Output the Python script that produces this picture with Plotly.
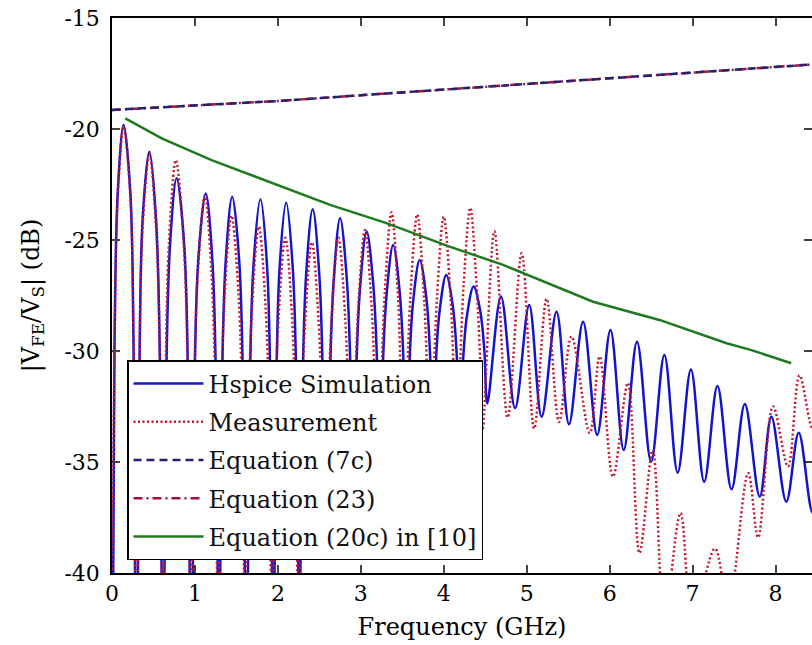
import plotly.graph_objects as go

# Frequency axis in GHz, magnitude in dB
x_ticks = [0, 1, 2, 3, 4, 5, 6, 7, 8]
y_ticks = [-40, -35, -30, -25, -20, -15]
y_tick_text = ["-40", "-35", "-30", "-25", "-20", "-15"]

# Hspice simulation (peaks, shoulders and nulls of the far-end response)
hspice_f = [0.00, 0.03, 0.07, 0.14, 0.22, 0.26, 0.295,
            0.33, 0.37, 0.45, 0.53, 0.58, 0.615,
            0.65, 0.70, 0.78, 0.87, 0.92, 0.955,
            0.99, 1.04, 1.13, 1.21, 1.26, 1.29,
            1.32, 1.37, 1.45, 1.535, 1.585, 1.62,
            1.655, 1.705, 1.79, 1.87, 1.915, 1.945,
            1.975, 2.02, 2.10, 2.18, 2.23, 2.26,
            2.29, 2.34, 2.42, 2.50, 2.55, 2.585,
            2.62, 2.67, 2.75, 2.83, 2.88, 2.91,
            2.94, 2.99, 3.07, 3.15, 3.20, 3.23,
            3.26, 3.31, 3.39, 3.47, 3.52, 3.55,
            3.58, 3.63, 3.71, 3.79, 3.84, 3.87,
            3.90, 3.95, 4.03, 4.11, 4.16, 4.195,
            4.23, 4.28, 4.36, 4.44, 4.49, 4.525,
            4.69, 4.86, 5.03, 5.18, 5.36, 5.51, 5.68, 5.85, 6.01, 6.17,
            6.33, 6.50, 6.66, 6.82, 6.98, 7.14, 7.30, 7.47, 7.63, 7.81,
            7.95, 8.13, 8.28, 8.45, 8.60]
hspice_db = [-50, -29.8, -22.8, -19.82, -22.8, -29.8, -50,
             -31.0, -24.0, -21.02, -24.0, -31.0, -50,
             -32.2, -25.2, -22.22, -25.2, -32.2, -50,
             -32.9, -25.9, -22.9, -25.9, -32.9, -50,
             -33.0, -26.0, -23.05, -26.0, -33.0, -50,
             -33.2, -26.2, -23.17, -26.2, -33.2, -48,
             -33.3, -26.3, -23.32, -26.3, -33.0, -45,
             -33.0, -26.6, -23.62, -26.6, -32.5, -39,
             -32.3, -27.0, -24.02, -26.7, -31.5, -37.5,
             -31.5, -27.2, -24.62, -27.0, -31.0, -36.5,
             -31.3, -27.5, -25.23, -27.4, -31.0, -35.5,
             -31.2, -27.8, -25.90, -27.6, -30.6, -34.5,
             -30.9, -28.2, -26.58, -28.0, -30.4, -33.5,
             -30.6, -28.4, -27.10, -28.2, -30.0, -32.36,
             -27.55, -32.57, -27.93, -32.96, -28.23, -33.3, -28.68, -33.78, -29.05, -34.46,
             -29.58, -34.98, -30.18, -35.48, -30.83, -35.89, -31.58, -36.23, -32.39, -36.56,
             -32.96, -36.79, -33.68, -37.3, -34.2]

# Measured response
meas_f = [0.00, 0.03, 0.07, 0.14, 0.22, 0.26, 0.295,
          0.33, 0.37, 0.45, 0.53, 0.58, 0.61,
          0.645, 0.69, 0.77, 0.86, 0.915, 0.95,
          0.985, 1.035, 1.12, 1.20, 1.25, 1.28,
          1.31, 1.36, 1.44, 1.525, 1.575, 1.61,
          1.64, 1.69, 1.77, 1.85, 1.90, 1.93,
          1.96, 2.01, 2.09, 2.17, 2.22, 2.25,
          2.28, 2.33, 2.41, 2.49, 2.54, 2.57,
          2.60, 2.65, 2.73, 2.81, 2.86, 2.89,
          2.92, 2.97, 3.05, 3.13, 3.18, 3.21,
          3.24, 3.29, 3.37, 3.445, 3.49, 3.52,
          3.55, 3.60, 3.68, 3.76, 3.81, 3.84,
          3.87, 3.92, 4.00, 4.08, 4.13, 4.16,
          4.19, 4.24, 4.32, 4.395, 4.44, 4.47,
          4.61, 4.77, 4.94, 5.09, 5.24, 5.39, 5.54, 5.76, 5.88, 6.04,
          6.22, 6.36, 6.52, 6.66, 6.855, 7.00, 7.27, 7.43, 7.67, 7.79,
          7.97, 8.15, 8.29, 8.45, 8.60]
meas_db = [-50, -30.0, -23.0, -19.9, -23.0, -30.0, -50,
           -31.1, -24.4, -21.1, -24.4, -31.1, -50,
           -31.4, -24.9, -21.4, -24.9, -31.4, -50,
           -33.0, -26.5, -23.0, -26.5, -33.0, -50,
           -33.9, -27.4, -23.9, -27.4, -33.9, -50,
           -34.4, -27.9, -24.4, -27.9, -34.4, -50,
           -34.9, -28.4, -24.9, -28.4, -34.9, -46,
           -34.5, -28.6, -25.1, -28.6, -34.0, -39,
           -33.5, -28.4, -24.9, -28.4, -33.5, -38,
           -33.2, -28.0, -24.55, -28.0, -33.0, -37,
           -32.5, -27.3, -23.75, -27.3, -32.5, -36.5,
           -32.5, -27.4, -23.85, -27.4, -32.3, -36,
           -32.3, -27.5, -23.95, -27.5, -32.0, -35,
           -31.5, -27.0, -23.55, -27.0, -30.5, -33.5,
           -24.6, -33.0, -25.6, -33.5, -27.65, -33.2, -29.35, -33.7, -30.25, -35.66,
           -31.44, -39.1, -34.46, -42.0, -37.3, -42.0, -38.9, -41.5, -35.5, -38.4,
           -32.5, -35.2, -31.1, -33.5, -31.0]

# Closed-form estimates
eq_f = [0, 1, 2, 3, 4, 5, 6, 7, 8, 9]
eq7c_db = [-19.14, -18.95, -18.74, -18.48, -18.22, -17.96, -17.70, -17.45, -17.20, -16.95]
eq23_db = [-19.14, -18.95, -18.74, -18.48, -18.22, -17.96, -17.70, -17.45, -17.20, -16.95]

eq20c_f = [0.16, 0.6, 1.2, 2.0, 2.63, 3.3, 4.07, 4.7, 5.4, 5.8, 6.6, 7.41, 7.7, 8.19]
eq20c_db = [-19.52, -20.42, -21.4, -22.52, -23.42, -24.23, -25.3, -26.1, -27.18, -27.78,
            -28.6, -29.65, -29.95, -30.55]

SERIF = "DejaVu Serif"

fig = go.Figure()
fig.add_trace(go.Scatter(x=hspice_f, y=hspice_db, mode="lines", name="Hspice Simulation",
                         legendgroup="a", legendrank=1,
                         line=dict(color="#1414cc", width=2.5, shape="spline", smoothing=1.0)))
fig.add_trace(go.Scatter(x=meas_f, y=meas_db, mode="lines", name="Measurement",
                         legendgroup="b", legendrank=2,
                         line=dict(color="#c8142a", width=2.5, dash="2px,2.5px",
                                   shape="spline", smoothing=1.0)))
fig.add_trace(go.Scatter(x=eq_f, y=eq23_db, mode="lines", name="Equation (23)",
                         legendgroup="d", legendrank=4,
                         line=dict(color="#a8103a", width=2.5, dash="9px,4px,2px,4px")))
fig.add_trace(go.Scatter(x=eq_f, y=eq7c_db, mode="lines", name="Equation (7c)",
                         legendgroup="c", legendrank=3,
                         line=dict(color="#24246e", width=2.5, dash="8px,5px")))
fig.add_trace(go.Scatter(x=eq20c_f, y=eq20c_db, mode="lines", name="Equation (20c) in [10]",
                         legendgroup="e", legendrank=5,
                         line=dict(color="#1f7a1f", width=2.5)))

# Inward tick marks of the right-hand axis
shapes = [dict(type="line", xref="paper", yref="y", x0=1 - 8 / 700, x1=1.0, y0=v, y1=v,
               line=dict(color="black", width=1.5)) for v in y_ticks[1:-1]]

fig.update_layout(
    width=812, height=645,
    margin=dict(l=112, r=0, t=18, b=72),
    paper_bgcolor="white", plot_bgcolor="white",
    font=dict(family=SERIF, color="black", size=22),
    shapes=shapes,
    legend=dict(x=15 / 700, y=13 / 555, xanchor="left", yanchor="bottom",
                bgcolor="white", bordercolor="black", borderwidth=1.5,
                font=dict(family=SERIF, size=24, color="#111"),
                itemwidth=70, tracegroupgap=4, traceorder="grouped"),
    xaxis=dict(range=[0, 8.44], tickvals=x_ticks, ticks="inside", ticklen=8, tickwidth=1.5,
               showline=True, linecolor="black", linewidth=1.5, mirror="ticks",
               showgrid=False, zeroline=False, tickfont=dict(family=SERIF, size=22),
               title=dict(text="Frequency (GHz)", font=dict(family=SERIF, size=24), standoff=13)),
    yaxis=dict(range=[-40, -15], tickvals=y_ticks, ticktext=y_tick_text,
               ticks="inside", ticklen=8, tickwidth=1.5,
               showline=True, linecolor="black", linewidth=1.5, mirror=False,
               showgrid=False, zeroline=False, tickfont=dict(family=SERIF, size=22),
               ticklabelstandoff=6,
               title=dict(text="|V<sub>FE</sub>/V<sub>S</sub>| (dB)",
                          font=dict(family=SERIF, size=24), standoff=18)),
)

fig.write_html("out.html")
